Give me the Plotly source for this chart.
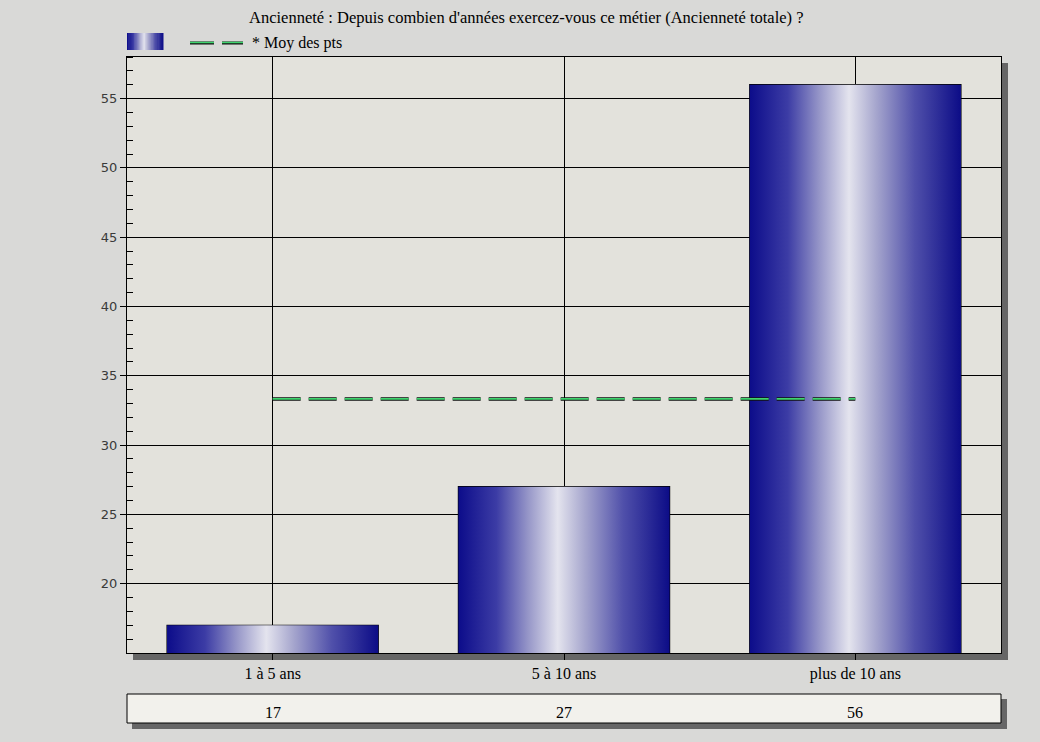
import plotly.graph_objects as go

# ---- data ----
categories = ["1 à 5 ans", "5 à 10 ans", "plus de 10 ans"]
values = [17, 27, 56]
y_ticks = [20, 25, 30, 35, 40, 45, 50, 55]
mean_label = "* Moy des pts"
title_text = "Ancienneté : Depuis combien d'années exercez-vous ce métier (Ancienneté totale) ?"
mean_value = sum(values) / len(values)

# ---- layout constants (pixels) ----
W, H = 1040, 742
L, R, T, B = 127, 39, 57, 89
PW, PH = W - L - R, H - T - B

def px_x(p):
    return (p - L) / PW

def px_y(p):
    return (H - B - p) / PH

BAR_W = 0.725

stops = [(0.0, (12, 12, 138)), (0.18, (60, 60, 165)), (0.33, (150, 150, 200)),
         (0.47, (228, 228, 238)), (0.60, (165, 165, 205)), (0.78, (80, 80, 170)),
         (1.0, (12, 12, 135))]
colorscale = [[t, "rgb(%d,%d,%d)" % c] for t, c in stops]

def lerp(c1, c2, t):
    return tuple(round(a + (b - a) * t) for a, b in zip(c1, c2))

def grad(t):
    for (t0, c0), (t1, c1) in zip(stops[:-1], stops[1:]):
        if t0 <= t <= t1:
            return "rgb(%d,%d,%d)" % lerp(c0, c1, (t - t0) / (t1 - t0))
    return "rgb(12,12,135)"

fig = go.Figure()
# gradient-filled bars (each bar is a filled region from 0 up to its value)
for i, v in enumerate(values):
    x0, x1 = i - BAR_W / 2, i + BAR_W / 2
    fig.add_trace(go.Scatter(
        x=[x0, x0, x1, x1, x0], y=[0, v, v, 0, 0], mode="lines", fill="toself",
        line=dict(width=0, color="rgba(0,0,0,0)"),
        fillgradient=dict(type="horizontal", colorscale=colorscale, start=x0, stop=x1),
        showlegend=False, hoverinfo="skip"))
# bar outlines
fig.add_trace(go.Bar(x=list(range(len(values))), y=values, width=BAR_W,
                     marker=dict(color="rgba(0,0,0,0)", line=dict(color="black", width=1.2)),
                     showlegend=False, hoverinfo="skip"))

mx = [0, len(values) - 1]
fig.add_trace(go.Scatter(x=mx, y=[mean_value] * 2, mode="lines",
                         line=dict(color="#111111", width=3.5, dash="28px,8px"),
                         showlegend=False, hoverinfo="skip"))
fig.add_trace(go.Scatter(x=mx, y=[mean_value] * 2, mode="lines", name=mean_label,
                         line=dict(color="#3fd46e", width=1.6, dash="28px,8px"),
                         showlegend=False))

shapes = []
# plot frame shadow
shapes.append(dict(type="rect", xref="paper", yref="paper", x0=px_x(1001), x1=px_x(1008),
                   y0=px_y(660), y1=px_y(63), fillcolor="#666666", line=dict(width=0), layer="below"))
shapes.append(dict(type="rect", xref="paper", yref="paper", x0=px_x(133), x1=px_x(1008),
                   y0=px_y(660), y1=px_y(653), fillcolor="#666666", line=dict(width=0), layer="below"))
# table box + shadow
shapes.append(dict(type="rect", xref="paper", yref="paper", x0=px_x(132), x1=px_x(1007),
                   y0=px_y(729), y1=px_y(699), fillcolor="#666666", line=dict(width=0)))
shapes.append(dict(type="rect", xref="paper", yref="paper", x0=px_x(127), x1=px_x(1001),
                   y0=px_y(723), y1=px_y(694), fillcolor="#f2f1ec", line=dict(color="black", width=1)))
# legend gradient swatch
SW = 30
for k in range(SW):
    t = (k + 0.5) / SW
    xa = 127 + 36 * k / SW
    shapes.append(dict(type="rect", xref="paper", yref="paper", x0=px_x(xa), x1=px_x(xa + 36 / SW + 0.5),
                       y0=px_y(50), y1=px_y(33), fillcolor=grad(t), line=dict(width=0)))
# legend line sample for the mean
shapes.append(dict(type="line", xref="paper", yref="paper", x0=px_x(190), x1=px_x(243),
                   y0=px_y(43), y1=px_y(43), line=dict(color="#111111", width=3, dash="24px,8px")))
shapes.append(dict(type="line", xref="paper", yref="paper", x0=px_x(190), x1=px_x(243),
                   y0=px_y(42.5), y1=px_y(42.5), line=dict(color="#3fd46e", width=1.5, dash="24px,8px")))

serif = dict(family="Liberation Serif", size=16, color="black")
annotations = [dict(text=title_text, xref="paper", yref="paper", x=px_x(526.5), y=px_y(17.5),
                    xanchor="center", yanchor="middle", showarrow=False,
                    font=dict(family="Liberation Serif", size=16.5, color="black")),
               dict(text=mean_label, xref="paper", yref="paper", x=px_x(250), y=px_y(43.5),
                    xanchor="left", yanchor="middle", showarrow=False, font=serif)]
for i, v in enumerate(values):
    annotations.append(dict(text=str(v), xref="x", yref="paper", x=i, y=px_y(712.5),
                            xanchor="center", yanchor="middle", showarrow=False, font=serif))

fig.update_layout(
    width=W, height=H,
    margin=dict(l=L, r=R, t=T, b=B),
    paper_bgcolor="#d9d9d7",
    plot_bgcolor="#e3e2dc",
    barmode="overlay",
    showlegend=False,
    shapes=shapes,
    annotations=annotations,
    xaxis=dict(range=[-0.5, len(values) - 0.5], tickvals=list(range(len(values))), ticktext=categories,
               showgrid=True, gridcolor="black", gridwidth=1, showline=True, mirror=True,
               linecolor="black", linewidth=1, ticks="outside", ticklen=6, tickcolor="black",
               zeroline=False, tickfont=serif),
    yaxis=dict(range=[15, 58], tickvals=y_ticks, showgrid=True, gridcolor="black", gridwidth=1,
               showline=True, mirror=True, linecolor="black", linewidth=1, ticks="outside",
               ticklen=6, tickcolor="black", zeroline=False,
               tickfont=dict(family="DejaVu Sans", size=13, color="#3a3a3a"),
               minor=dict(dtick=1, tick0=0, ticks="inside", ticklen=6, tickcolor="black", showgrid=False)),
)

fig.write_html("out.html", config={"displayModeBar": False},
               post_script="document.body.style.margin='0';document.body.style.background='#d9d9d7';")
